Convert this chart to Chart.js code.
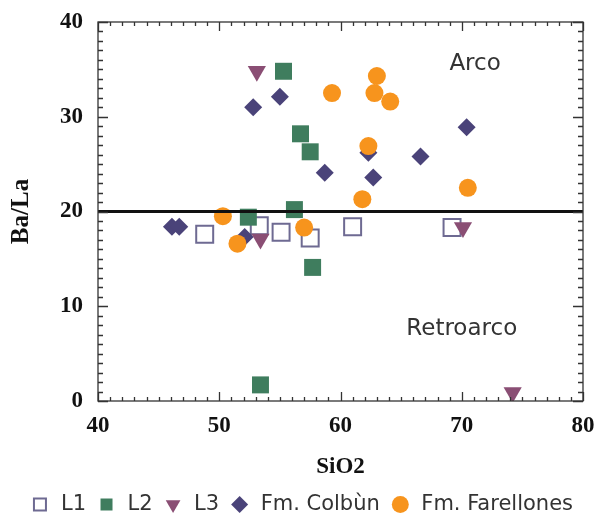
<!DOCTYPE html>
<html>
<head>
<meta charset="utf-8">
<script src="https://cdn.jsdelivr.net/npm/chart.js@4/dist/chart.umd.min.js"></script>
<style>
  html, body { margin: 0; padding: 0; background: #fff; }
  #wrap { width: 601px; height: 519px; position: relative; }
</style>
</head>
<body>
<div id="wrap"><canvas id="baLaChart"></canvas></div>
<script>
// values
const seriesNames = ['L1', 'L2', 'L3', 'Fm. Colbùn', 'Fm. Farellones'];

const l1Si = [48.8, 53.3, 55.1, 57.5, 61.0, 69.2];
const l1BaLa = [17.6, 18.5, 17.8, 17.2, 18.4, 18.3];

const l2Si = [55.3, 56.7, 57.5, 52.4, 56.2, 57.7, 53.4];
const l2BaLa = [34.8, 28.2, 26.3, 19.4, 20.2, 14.1, 1.7];

const l3Si = [53.1, 53.4, 70.1, 74.2];
const l3BaLa = [34.8, 17.1, 18.3, 0.9];

const colbunSi = [46.1, 46.7, 52.8, 55.0, 58.7, 62.3, 62.7, 66.6, 70.4, 52.1];
const colbunBaLa = [18.4, 18.4, 31.0, 32.1, 24.1, 26.2, 23.6, 25.8, 28.9, 17.3];

const farellonesSi = [59.3, 63.0, 62.8, 64.1, 62.3, 61.8, 70.5, 50.3, 51.5, 57.0];
const farellonesBaLa = [32.5, 34.3, 32.5, 31.6, 26.9, 21.3, 22.5, 19.5, 16.6, 18.3];

const xTicks = [40, 50, 60, 70, 80];
const yTicks = [0, 10, 20, 30, 40];
const boundaryLine = 20;

function toPoints(xs, ys) {
    return xs.map((x, i) => ({ x: x, y: ys[i] }));
}

// frame with inward ticks on all four sides
const frameTicks = {
    id: 'frameTicks',
    afterDatasetsDraw(chart) {
        const { ctx, chartArea: a, scales: { x, y } } = chart;
        ctx.save();
        ctx.strokeStyle = '#333';
        ctx.lineWidth = 1.3;
        ctx.strokeRect(a.left, a.top, a.right - a.left, a.bottom - a.top);
        ctx.beginPath();
        for (let v = xTicks[0]; v <= xTicks[xTicks.length - 1]; v++) {
            const px = Math.round(x.getPixelForValue(v)) + 0.5;
            const len = v % 10 === 0 ? 9 : 4;
            ctx.moveTo(px, a.bottom); ctx.lineTo(px, a.bottom - len);
            ctx.moveTo(px, a.top); ctx.lineTo(px, a.top + len);
        }
        for (let v = yTicks[0]; v <= yTicks[yTicks.length - 1]; v++) {
            const py = Math.round(y.getPixelForValue(v)) + 0.5;
            const len = v % 10 === 0 ? 10 : 5;
            ctx.moveTo(a.left, py); ctx.lineTo(a.left + len, py);
            ctx.moveTo(a.right, py); ctx.lineTo(a.right - len, py);
        }
        ctx.stroke();

        ctx.fillStyle = '#333';
        ctx.font = '23px "DejaVu Sans"';
        ctx.textAlign = 'center';
        ctx.textBaseline = 'middle';
        ctx.fillText('Arco', x.getPixelForValue(71.1), y.getPixelForValue(35.6));
        ctx.fillText('Retroarco', x.getPixelForValue(70.0), y.getPixelForValue(7.6));
        ctx.restore();
    }
};

const ctx = document.getElementById('baLaChart').getContext('2d');

new Chart(ctx, {
    type: 'scatter',
    data: {
        datasets: [
            {
                label: seriesNames[0],
                data: toPoints(l1Si, l1BaLa),
                pointStyle: 'rect',
                pointRadius: 12,
                backgroundColor: '#ffffff',
                borderColor: '#6e6a92',
                borderWidth: 2,
                order: 5
            },
            {
                label: seriesNames[1],
                data: toPoints(l2Si, l2BaLa),
                pointStyle: 'rect',
                pointRadius: 12,
                backgroundColor: '#3f7d5e',
                borderColor: '#3f7d5e',
                borderWidth: 0,
                order: 3
            },
            {
                label: seriesNames[2],
                data: toPoints(l3Si, l3BaLa),
                pointStyle: 'triangle',
                pointRotation: 180,
                pointRadius: 10.5,
                backgroundColor: '#8a4e74',
                borderColor: '#8a4e74',
                borderWidth: 0,
                order: 2
            },
            {
                label: seriesNames[3],
                data: toPoints(colbunSi, colbunBaLa),
                pointStyle: 'rectRot',
                pointRadius: 9,
                backgroundColor: '#4a4379',
                borderColor: '#4a4379',
                borderWidth: 0,
                order: 4
            },
            {
                label: seriesNames[4],
                data: toPoints(farellonesSi, farellonesBaLa),
                pointStyle: 'circle',
                pointRadius: 9,
                backgroundColor: '#f7941d',
                borderColor: '#f7941d',
                borderWidth: 0,
                order: 1
            },
            {
                label: 'limite',
                type: 'line',
                data: [{ x: xTicks[0], y: boundaryLine }, { x: xTicks[xTicks.length - 1], y: boundaryLine }],
                borderColor: '#111',
                borderWidth: 3,
                pointRadius: 0,
                order: 0
            }
        ]
    },
    options: {
        responsive: true,
        maintainAspectRatio: false,
        animation: false,
        layout: { padding: { left: 0, right: 18, top: 22, bottom: -6 } },
        plugins: {
            tooltip: { enabled: false },
            legend: {
                position: 'bottom',
                align: 'end',
                labels: {
                    usePointStyle: true,
                    boxHeight: 12,
                    padding: 10,
                    color: '#333',
                    font: { family: 'DejaVu Sans', size: 21 },
                    filter: (item) => item.text !== 'limite',
                    sort: (a, b) => a.datasetIndex - b.datasetIndex
                }
            }
        },
        scales: {
            x: {
                type: 'linear',
                min: 40,
                max: 80,
                grid: { display: false },
                border: { display: false },
                afterFit: (scale) => {
                    scale.height = 83;
                    scale.paddingLeft = 0;
                    scale.paddingRight = 0;
                },
                ticks: {
                    stepSize: 10,
                    padding: 3,
                    color: '#111',
                    font: { family: 'Liberation Serif', size: 23, weight: 'bold' }
                },
                title: {
                    display: true,
                    text: 'SiO2',
                    color: '#111',
                    padding: { top: 0, bottom: 3 },
                    font: { family: 'Liberation Serif', size: 23, weight: 'bold' }
                }
            },
            y: {
                type: 'linear',
                min: 0,
                max: 40,
                grid: { display: false },
                border: { display: false },
                afterFit: (scale) => {
                    scale.width = 98;
                    scale.paddingTop = 0;
                    scale.paddingBottom = 0;
                },
                ticks: {
                    stepSize: 10,
                    padding: 7,
                    color: '#111',
                    font: { family: 'Liberation Serif', size: 23, weight: 'bold' }
                },
                title: {
                    display: true,
                    text: 'Ba/La',
                    color: '#111',
                    padding: { top: 7, bottom: 0 },
                    font: { family: 'Liberation Serif', size: 25, weight: 'bold' }
                }
            }
        }
    },
    plugins: [frameTicks]
});
</script>
</body>
</html>
